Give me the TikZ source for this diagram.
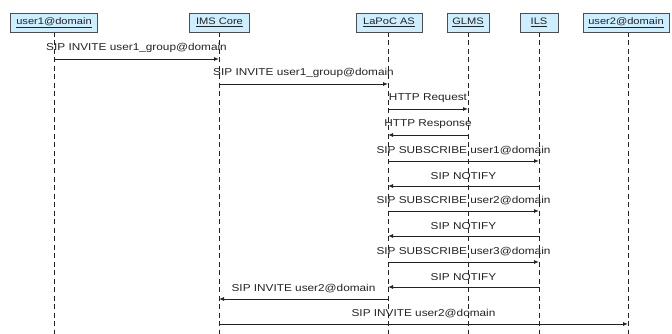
\documentclass[tikz,border=0pt]{standalone}
\usepackage{fontspec}
\usetikzlibrary{arrows.meta}
\newfontfamily\labfont[FakeStretch=1.18]{Liberation Sans}
\definecolor{boxfill}{HTML}{CCEEFF}
\definecolor{ink}{HTML}{222222}
\tikzset{
  actor/.style={draw=ink!80, fill=boxfill, line width=0.8pt, inner sep=0pt, minimum height=19pt, font=\labfont\fontsize{9.4}{10}\selectfont, text=ink},
  life/.style={draw=ink, line width=0.8pt, dash pattern=on 5pt off 3.5pt},
  msg/.style={draw=ink, line width=0.9pt, -{Latex[length=5pt,width=4pt]}},
  msglab/.style={font=\labfont\fontsize{10}{12}\selectfont, text=ink, inner sep=0pt, above=6pt}
}
\newcommand{\msgline}[4]{%
  \draw[msg] (#1 |- 0,#3) -- (#2 |- 0,#3) node[midway, msglab] {#4};}
\begin{document}
\begin{tikzpicture}[x=1pt, y=-1pt]
\useasboundingbox (0,0) rectangle (672,334);
% lifeline bottoms
\coordinate (b1) at (54,334);
\coordinate (b2) at (219,334);
\coordinate (b3) at (388,334);
\coordinate (b4) at (468,334);
\coordinate (b5) at (539,334);
\coordinate (b6) at (628,334);
% lifelines first (under boxes)
\foreach \n/\x in {1/54,2/219,3/388,4/468,5/539,6/628}
  \coordinate (t\n) at (\x,32);
\foreach \n in {1,...,6}
  \draw[life] (t\n) -- (b\n);
% actors
\node[actor, minimum width=87pt] (u1) at (54,22.5) {\underline{user1@domain}};
\node[actor, minimum width=60pt] (ims) at (219.5,22.5) {\underline{IMS Core}};
\node[actor, minimum width=66pt] (as) at (389,22.5) {\underline{LaPoC AS}};
\node[actor, minimum width=42pt] (glms) at (468,22.5) {\underline{GLMS}};
\node[actor, minimum width=38pt] (ils) at (539,22.5) {\underline{ILS}};
\node[actor, minimum width=86pt] (u2) at (626,22.5) {\underline{user2@domain}};
% messages
\msgline{b1}{b2}{59}{SIP INVITE user1\_group@domain}
\msgline{b2}{b3}{84}{SIP INVITE user1\_group@domain}
\msgline{b3}{b4}{109}{HTTP Request}
\msgline{b4}{b3}{135}{HTTP Response}
\msgline{b3}{b5}{161}{SIP SUBSCRIBE user1@domain}
\msgline{b5}{b3}{186}{SIP NOTIFY}
\msgline{b3}{b5}{211}{SIP SUBSCRIBE user2@domain}
\msgline{b5}{b3}{236}{SIP NOTIFY}
\msgline{b3}{b5}{262}{SIP SUBSCRIBE user3@domain}
\msgline{b5}{b3}{287}{SIP NOTIFY}
\msgline{b3}{b2}{299}{SIP INVITE user2@domain}
\msgline{b2}{b6}{324}{SIP INVITE user2@domain}
\end{tikzpicture}
\end{document}
